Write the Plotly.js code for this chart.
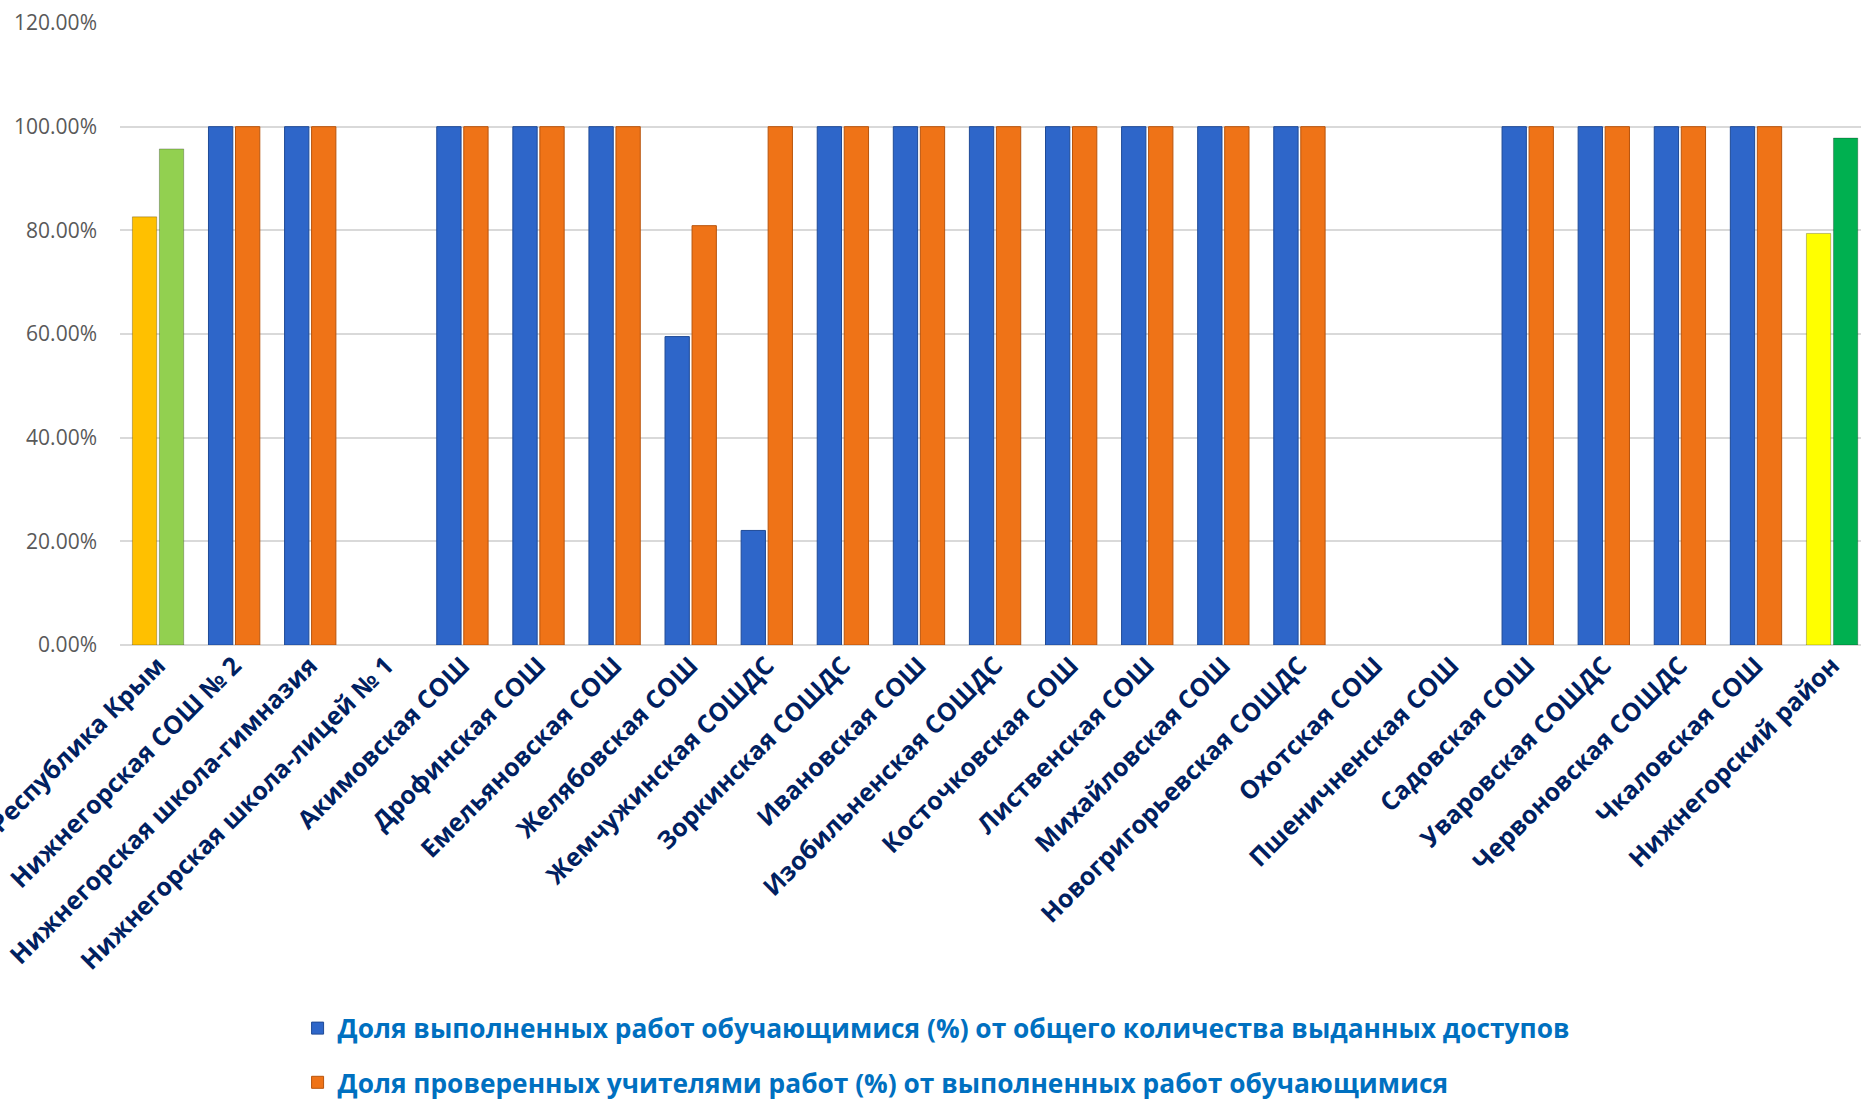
<!DOCTYPE html>
<html>
<head>
<meta charset="utf-8">
<script src="https://cdn.plot.ly/plotly-3.0.1.min.js"></script>
<style>
html,body{margin:0;padding:0;overflow:hidden;background:#fff;}
#chart{width:1861px;height:1102px;}
</style>
</head>
<body>
<div id="chart"></div>
<script>
const categories = [
  "Республика Крым",
  "Нижнегорская СОШ № 2",
  "Нижнегорская школа-гимназия",
  "Нижнегорская школа-лицей № 1",
  "Акимовская СОШ",
  "Дрофинская СОШ",
  "Емельяновская СОШ",
  "Желябовская СОШ",
  "Жемчужинская СОШДС",
  "Зоркинская СОШДС",
  "Ивановская СОШ",
  "Изобильненская СОШДС",
  "Косточковская СОШ",
  "Лиственская СОШ",
  "Михайловская СОШ",
  "Новогригорьевская СОШДС",
  "Охотская СОШ",
  "Пшеничненская СОШ",
  "Садовская СОШ",
  "Уваровская СОШДС",
  "Червоновская СОШДС",
  "Чкаловская СОШ",
  "Нижнегорский район"
];
// Доля выполненных работ обучающимися (%) от общего количества выданных доступов
const completed = [0.826, 1, 1, null, 1, 1, 1, 0.595, 0.221, 1, 1, 1, 1, 1, 1, 1, null, null, 1, 1, 1, 1, 0.794];
// Доля проверенных учителями работ (%) от выполненных работ обучающимися
const checked = [0.957, 1, 1, null, 1, 1, 1, 0.809, 1, 1, 1, 1, 1, 1, 1, 1, null, null, 1, 1, 1, 1, 0.978];
const seriesNames = [
  "Доля выполненных работ обучающимися (%) от общего количества выданных доступов",
  "Доля проверенных учителями работ (%) от выполненных работ обучающимися"
];
// summary rows (region / district) drawn in their own colours
const summaryRows = ["Республика Крым", "Нижнегорский район"];
const summaryColors1 = {"Республика Крым": "#FFC000", "Нижнегорский район": "#FFFF00"};
const summaryColors2 = {"Республика Крым": "#92D050", "Нижнегорский район": "#00B050"};

const isSummary = categories.map(c => summaryRows.includes(c));
const xIdx = categories.map((c, i) => i);

function pick(vals, wantSummary) {
  return vals.map((v, i) => (isSummary[i] === wantSummary ? v : null));
}

const blue = "#2E66C9", blueLine = "#1F4A96";
const orange = "#EF7317", orangeLine = "#B8540C";

const traces = [
  {
    type: "bar", name: seriesNames[0], x: xIdx, y: pick(completed, false),
    offsetgroup: "a", legendgroup: "a",
    marker: {color: blue, line: {color: blueLine, width: 1}}
  },
  {
    type: "bar", name: seriesNames[1], x: xIdx, y: pick(checked, false),
    offsetgroup: "b", legendgroup: "b",
    marker: {color: orange, line: {color: orangeLine, width: 1}}
  },
  {
    type: "bar", name: seriesNames[0], x: xIdx, y: pick(completed, true),
    offsetgroup: "a", showlegend: false,
    marker: {color: categories.map(c => summaryColors1[c] || blue), line: {color: "rgba(0,0,0,0.25)", width: 1}}
  },
  {
    type: "bar", name: seriesNames[1], x: xIdx, y: pick(checked, true),
    offsetgroup: "b", showlegend: false,
    marker: {color: categories.map(c => summaryColors2[c] || orange), line: {color: "rgba(0,0,0,0.25)", width: 1}}
  }
];

const layout = {
  width: 1861, height: 1102,
  margin: {l: 120, r: 0, t: 23, b: 457, autoexpand: false},
  paper_bgcolor: "#fff", plot_bgcolor: "#fff",
  barmode: "group", bargap: 0.29, bargroupgap: 0.1,
  font: {family: "Open Sans, Noto Sans, sans-serif"},
  showlegend: true,
  legend: {
    x: 0.102, xanchor: "left", y: -0.578, yanchor: "top",
    orientation: "v", traceorder: "grouped", tracegroupgap: 17,
    font: {size: 26.3, color: "#0070C0", weight: "bold", family: "Open Sans, Noto Sans, sans-serif"},
    bgcolor: "rgba(0,0,0,0)"
  },
  xaxis: {
    type: "linear", automargin: false,
    range: [-0.5, 22.38],
    tickmode: "array", tickvals: xIdx, ticktext: categories,
    tickangle: -45, ticklabeloverflow: "allow",
    tickfont: {size: 25, color: "#002060", weight: "bold", family: "Open Sans, Noto Sans, sans-serif"},
    showgrid: false, zeroline: false, showline: false, ticks: ""
  },
  yaxis: {
    range: [0, 1.2], dtick: 0.2, tick0: 0, automargin: false,
    tickformat: ".2%",
    tickfont: {size: 21, color: "#595959"},
    showgrid: true, gridcolor: "#D9D9D9", gridwidth: 2,
    zeroline: true, zerolinecolor: "#D9D9D9", zerolinewidth: 2,
    showline: false, ticks: "", ticklabelstandoff: 22
  }
};

Plotly.newPlot("chart", traces, layout, {displayModeBar: false, responsive: false});
</script>
</body>
</html>
